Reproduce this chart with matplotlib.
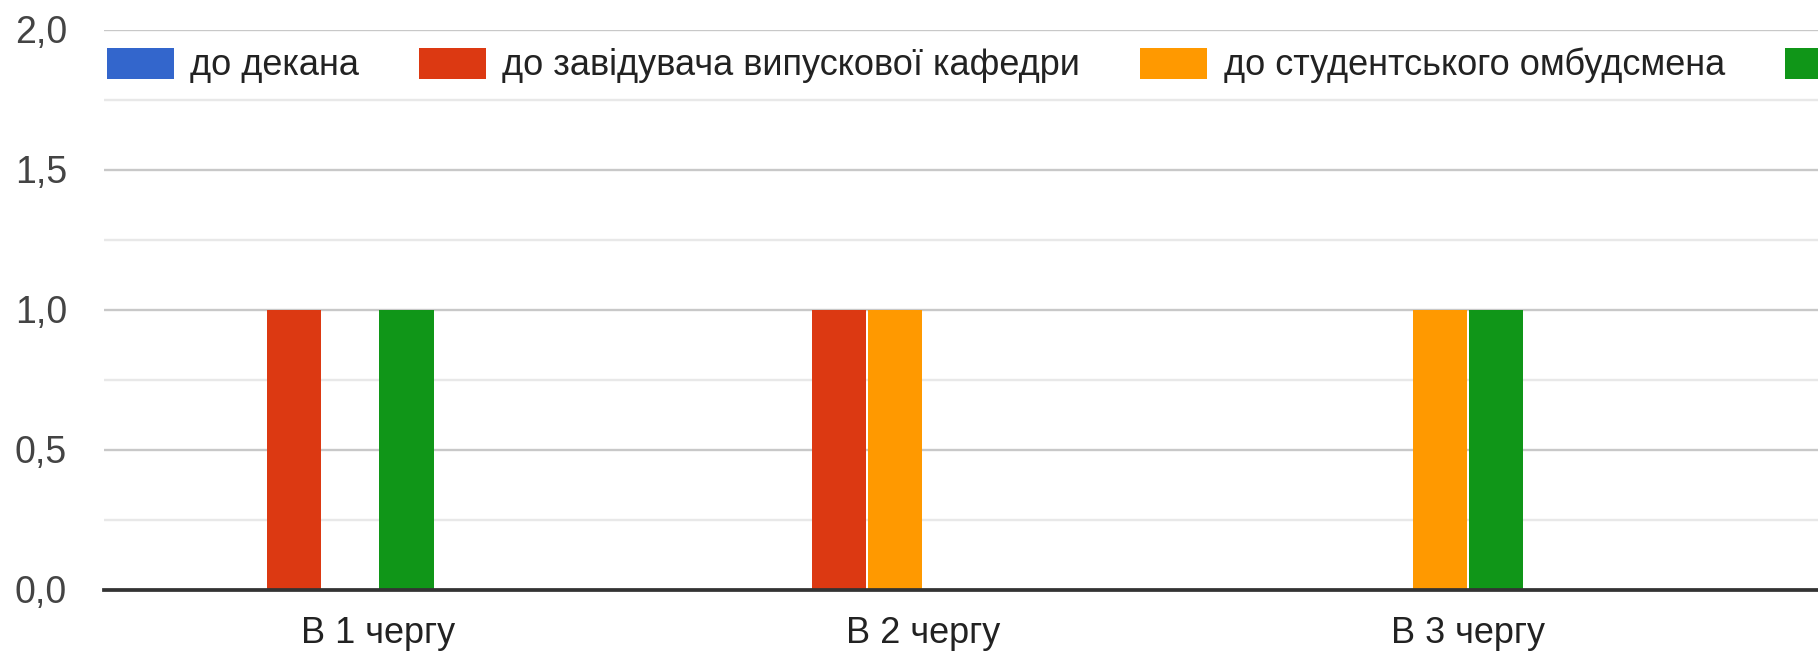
import matplotlib
matplotlib.use("Agg")
import matplotlib.pyplot as plt
import numpy as np

categories = ["В 1 чергу", "В 2 чергу", "В 3 чергу"]
series_labels = ["до декана", "до завідувача випускової кафедри",
                 "до студентського омбудсмена", "до ректора", "до проректора", "інше"]
series_colors = ["#3366cc", "#dc3912", "#ff9900", "#109618", "#990099", "#0099c6"]
values = [
    [0, 0, 0],   # до декана
    [1, 1, 0],   # до завідувача випускової кафедри
    [0, 1, 1],   # до студентського омбудсмена
    [1, 0, 1],
    [0, 0, 0],
    [0, 0, 0],
]
y_ticks = [0.0, 0.5, 1.0, 1.5, 2.0]
y_tick_labels = ["0,0", "0,5", "1,0", "1,5", "2,0"]

plt.rcParams['font.family'] = ['Liberation Sans', 'DejaVu Sans']

W, H = 1818, 652
fig = plt.figure(figsize=(W / 100, H / 100), dpi=100)
left_px, bottom_px, top_px = 104, 589.5, 29.5
ax = fig.add_axes([left_px / W, (H - bottom_px) / H, 1 - left_px / W, (bottom_px - top_px) / H])

n = len(series_labels)
group = 0.618
slot = group / n
x = np.arange(len(categories))
for i, (lab, col, vals) in enumerate(zip(series_labels, series_colors, values)):
    offs = -group / 2 + slot * (i + 0.5)
    ax.bar(x + offs, vals, width=slot * 0.965, color=col, label=lab, zorder=3, linewidth=0)

cat_px = 544.7
ax.set_xlim(-(378.5 - left_px) / cat_px, (W - 378.5) / cat_px)
ax.set_ylim(0, 2.0)

ax.set_yticks(y_ticks)
ax.set_yticklabels(y_tick_labels)
ax.set_yticks([0.25, 0.75, 1.25, 1.75], minor=True)
ax.set_xticks(x)
ax.set_xticklabels(categories)

ax.grid(axis='y', which='major', color='#c8c8c8', linewidth=1.7, zorder=1)
ax.grid(axis='y', which='minor', color='#e8e8e8', linewidth=1.7, zorder=1)
ax.axhline(0, color='#333333', linewidth=2.7, zorder=4, clip_on=False)

for s in ax.spines.values():
    s.set_visible(False)
ax.tick_params(axis='y', which='both', length=0, pad=26.5, labelsize=27, labelcolor='#444444')
ax.tick_params(axis='x', length=0, pad=19, labelsize=26, labelcolor='#222222')

fs = 26
fpx = fs * 100 / 72
leg = ax.legend(loc='center left',
                bbox_to_anchor=(2.5 / (W - left_px), (bottom_px - 65.5) / (bottom_px - top_px)),
                ncol=n, frameon=False, fontsize=fs, handlelength=67 / fpx, handleheight=34 / fpx,
                handletextpad=16.4 / fpx, columnspacing=60 / fpx, borderaxespad=0, borderpad=0)
for t in leg.get_texts():
    t.set_color('#222222')

fig.savefig("out.png", dpi=100)
